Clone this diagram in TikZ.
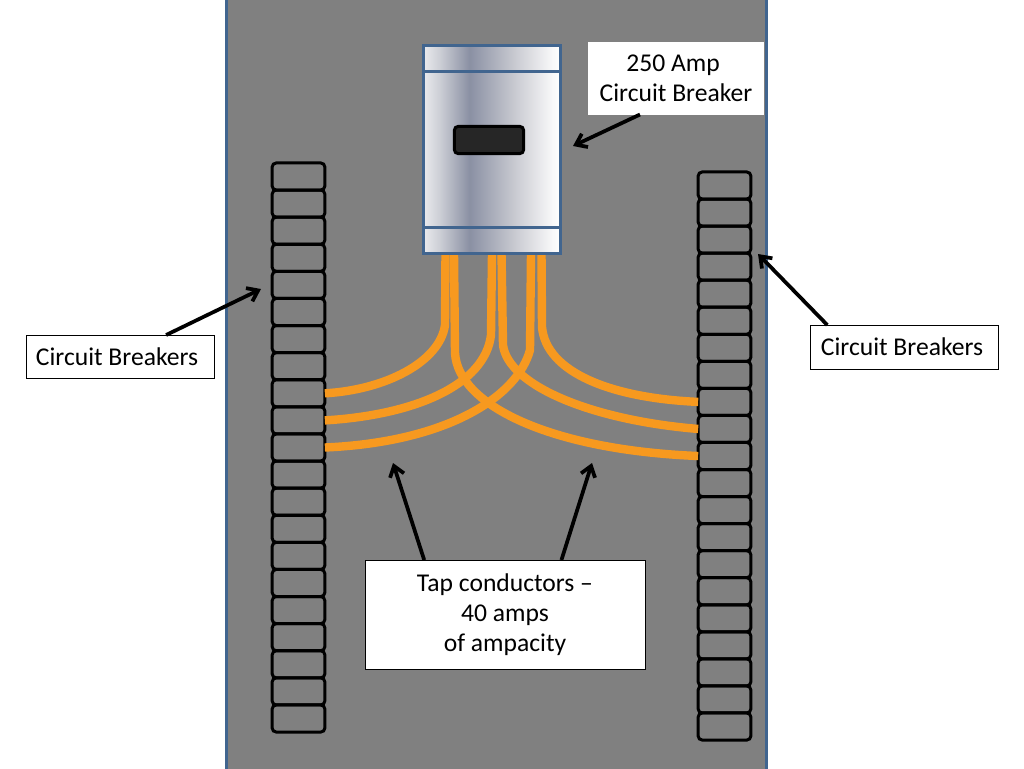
\documentclass[tikz,border=0pt]{standalone}
\usepackage{fontspec}
\setmainfont{Carlito}
\usetikzlibrary{arrows.meta}
\definecolor{panelgray}{HTML}{808080}
\definecolor{panelblue}{HTML}{41658F}
\definecolor{wireorange}{HTML}{F7991F}
\definecolor{barrela}{HTML}{E9EAED}
\definecolor{barrelb}{HTML}{CDCFD6}
\definecolor{barrelc}{HTML}{8A90A3}
\definecolor{barreld}{HTML}{CFD0D6}
\definecolor{barrele}{HTML}{F8F8F9}
\pgfdeclarehorizontalshading{barrel}{100bp}{
	color(0bp)=(barrela);
	color(25bp)=(barrela);
	color(30.8bp)=(barrelb);
	color(41.8bp)=(barrelc);
	color(60bp)=(barreld);
	color(72bp)=(barrele);
	color(75bp)=(white);
	color(100bp)=(white)}
\tikzset{
	breakerbox/.style={draw=black, line width=2.25pt, rounded corners=3pt, minimum width=39.5pt, minimum height=20.3pt, outer sep=0pt, inner sep=0pt},
	labelbox/.style={fill=white, draw=#1, line width=0.6pt, align=center, outer sep=0pt, inner sep=0pt, font=\fontsize{19.2}{22.5}\selectfont},
	labelbox/.default=black,
	pointer/.style={draw=black, line width=2.8pt, -{Straight Barb[length=7.5pt,width=11pt]}},
	wire/.style={draw=wireorange, line width=6.3pt},
}
\begin{document}
\begin{tikzpicture}[x=0.75pt,y=-0.75pt]
	\useasboundingbox (0,0) rectangle (1024,768);
	% panel
	\draw[panelblue, line width=2.25pt, fill=panelgray] (226,-3) rectangle (766.5,771);

	% breakers left and right
	\foreach \i in {1,...,21} {
		\node[breakerbox] (left\i) at (298.5,{176.5+27.1*(\i-1)}) {};
		\node[breakerbox] (right\i) at (724.5,{185.5+27.05*(\i-1)}) {};
	}

	% main breaker
	\node[minimum width=102.75pt, minimum height=156pt, outer sep=0pt, inner sep=0pt] (main) at (492,149) {};
	\coordinate (topa) at (445.5,253);
	\coordinate (topb) at (492,253);
	\coordinate (topc) at (531,253);
	\coordinate (topd) at (541.5,253);
	\coordinate (tope) at (501.5,253);
	\coordinate (topf) at (454,253);

	% tap conductors
	\draw[wire] (topa) -- (445,325) .. controls (440,362) and (385,390) .. (left9.east);
	\draw[wire] (topb) -- (491,335) .. controls (485,385) and (415,415) .. (left10.east);
	\draw[wire] (topc) -- (530,350) .. controls (518,395) and (450,442) .. (left11.east);
	\draw[wire] (topd) -- (542,327) .. controls (546,372) and (610,398) .. (right9.west);
	\draw[wire] (tope) -- (503,345) .. controls (508,385) and (590,420) .. (right10.west);
	\draw[wire] (topf) -- (455,353) .. controls (458,405) and (550,450) .. (right11.west);

	\draw[panelblue, line width=2.25pt, shading=barrel] (main.south west) rectangle (main.north east);
	\draw[panelblue, line width=2.25pt] (423.5,71) -- (560.5,71);
	\draw[panelblue, line width=2.25pt] (423.5,227) -- (560.5,227);
	\node[draw=black, fill=black!85, line width=2.25pt, rounded corners=3pt, minimum width=52pt, minimum height=20.5pt, outer sep=0pt, inner sep=0pt] (slot) at (489,140) {};

	% labels
	\node[labelbox=white, minimum width=131.25pt, minimum height=54pt] (mainlabel) at (676,78.5) {250 Amp\hspace*{4.5pt}\\Circuit Breaker};
	\node[labelbox, minimum width=141pt, minimum height=32.25pt] (leftlabel) at (120,356.5) {Circuit Breakers\hspace*{4.5pt}};
	\node[labelbox, minimum width=141pt, minimum height=33pt] (rightlabel) at (904,347) {Circuit Breakers\hspace*{3pt}};
	\node[labelbox, minimum width=210pt, minimum height=81.75pt] (taplabel) at (505,614.5) {Tap conductors --\\40 amps\\of ampacity};

	% arrows
	\coordinate (maintip) at (573,146);
	\coordinate (lefttip) at (261,289);
	\coordinate (righttip) at (758,254);
	\coordinate (tiptipa) at (393,463);
	\coordinate (tiptipb) at (592,463);
	\draw[pointer] (mainlabel.225) -- (maintip);
	\draw[pointer] (leftlabel.25.5) -- (lefttip);
	\draw[pointer] (rightlabel.164) -- (righttip);
	\draw[pointer] (taplabel.146.4) -- (tiptipa);
	\draw[pointer] (taplabel.44.2) -- (tiptipb);
\end{tikzpicture}
\end{document}
